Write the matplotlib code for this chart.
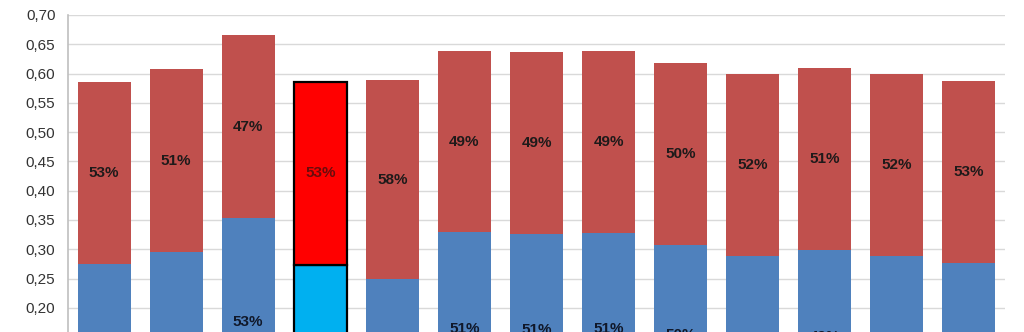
import matplotlib.pyplot as plt
from matplotlib.ticker import MultipleLocator, FuncFormatter

# lower (blue) and upper (red) segment heights for each bar
lower = [0.275, 0.295, 0.353, 0.273, 0.249, 0.329, 0.326, 0.328, 0.307, 0.289, 0.299, 0.289, 0.276]
upper = [0.311, 0.313, 0.312, 0.313, 0.340, 0.310, 0.311, 0.311, 0.311, 0.310, 0.311, 0.310, 0.311]
highlight = 3  # the bar drawn in brighter colours with a black outline

blue, red = '#4F81BD', '#C0504D'
hi_blue, hi_red = '#00B0F0', '#FF0000'

fig = plt.figure(figsize=(10.24, 3.32), dpi=100)
# the axis runs from 0 up to 0.70; only the top part of it fits on the canvas
ax = fig.add_axes([68 / 1024, (332 - 425) / 332, (1005 - 68) / 1024, 410 / 332])

x = list(range(len(lower)))
for i in x:
    lo_c, up_c = (hi_blue, hi_red) if i == highlight else (blue, red)
    kw = dict(edgecolor='black', linewidth=1.6) if i == highlight else dict(linewidth=0)
    ax.bar(i, lower[i], width=0.735, color=lo_c, zorder=3, **kw)
    ax.bar(i, upper[i], width=0.735, bottom=lower[i], color=up_c, zorder=3, **kw)

    total = lower[i] + upper[i]
    lab_kw = dict(ha='center', va='center', fontsize=11, fontweight='bold',
                  family='Liberation Sans', zorder=4)
    ax.text(i, lower[i] + upper[i] / 2, f'{round(upper[i] / total * 100)}%',
            color='#6a0c0c' if i == highlight else '#1e1a1a', **lab_kw)
    ax.text(i, lower[i] / 2, f'{round(lower[i] / total * 100)}%', color='#10182a', **lab_kw)

ax.set_xlim(-0.5, len(lower) - 0.5)
ax.set_ylim(0, 0.70)
ax.yaxis.set_major_locator(MultipleLocator(0.05))
ax.yaxis.set_major_formatter(FuncFormatter(lambda v, _: f'{v:.2f}'.replace('.', ',')))
ax.tick_params(axis='y', length=0, pad=9, labelsize=11, labelcolor='#333333')
for lab in ax.get_yticklabels():
    lab.set_family('Liberation Sans')
ax.set_xticks([])

ax.grid(axis='y', color='#D9D9D9', linewidth=1.0, zorder=0)
for side in ('top', 'right', 'bottom'):
    ax.spines[side].set_visible(False)
ax.spines['left'].set_color('#BFBFBF')
ax.spines['left'].set_linewidth(1.2)

fig.savefig('out.png', dpi=100)
